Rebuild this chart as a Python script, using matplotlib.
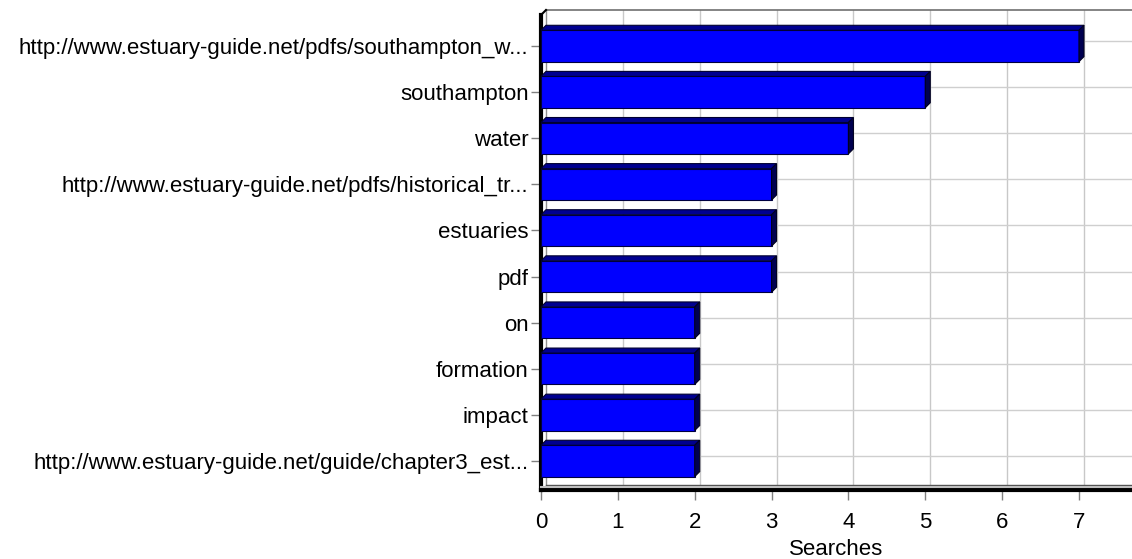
import matplotlib.pyplot as plt
import numpy as np
from matplotlib.patches import Polygon

plt.rcParams['font.family'] = ['Liberation Sans', 'DejaVu Sans']

labels = [
    "http://www.estuary-guide.net/pdfs/southampton_w...",
    "southampton",
    "water",
    "http://www.estuary-guide.net/pdfs/historical_tr...",
    "estuaries",
    "pdf",
    "on",
    "formation",
    "impact",
    "http://www.estuary-guide.net/guide/chapter3_est...",
]
searches = [7, 5, 4, 3, 3, 3, 2, 2, 2, 2]
xticks = [0, 1, 2, 3, 4, 5, 6, 7]

W, H = 1132, 559
fig = plt.figure(figsize=(W / 100, H / 100), dpi=100)
# axes box in pixels: x 541..1132, y 10..490
ax = fig.add_axes([541 / W, 1 - 490 / H, (W - 541) / W, (490 - 10) / H])

xmax = 7.69
ymin, ymax = -0.78, 9.63
ax.set_xlim(0, xmax)
ax.set_ylim(ymax, ymin)

# depth offset in data units (about 5 px right, 5 px up)
dx = 5 / 76.9
dy = 5 / 46.1

# back wall grid
ypos = np.arange(len(labels))
for t in xticks[1:]:
    ax.plot([t + dx, t + dx], [ymin, ymax - dy], color='#c8c8c8', lw=1, zorder=0)
for y in ypos:
    ax.plot([dx, xmax], [y - dy, y - dy], color='#cfcfcf', lw=1, zorder=0)
# back wall edges
ax.plot([dx, dx], [ymin, ymax - dy], color='#909090', lw=1, zorder=1)
ax.plot([dx, xmax], [ymin, ymin], color='#707070', lw=1.2, zorder=1, clip_on=False)
ax.plot([dx, xmax], [ymax - dy, ymax - dy], color='#505050', lw=1, zorder=1)
ax.plot([0, dx], [ymin + dy, ymin], color='black', lw=1.5, zorder=5, clip_on=False)

# bars
h = 0.34
ax.barh(ypos, searches, height=2 * h, color='#0000ff', edgecolor='#000040', lw=0.8, zorder=3)
for y, v in zip(ypos, searches):
    top = Polygon([(0, y - h), (v, y - h), (v + dx, y - h - dy), (dx, y - h - dy)],
                  closed=True, facecolor='#000090', edgecolor='#000030', lw=0.8, zorder=4)
    side = Polygon([(v, y - h), (v + dx, y - h - dy), (v + dx, y + h - dy), (v, y + h)],
                   closed=True, facecolor='#000050', edgecolor='#000020', lw=0.8, zorder=4)
    ax.add_patch(top)
    ax.add_patch(side)

for s in ['top', 'right']:
    ax.spines[s].set_visible(False)
ax.spines['left'].set_linewidth(3)
ax.spines['left'].set_bounds(ymax, ymin + dy)
ax.spines['bottom'].set_linewidth(3)
ax.plot([0, xmax], [ymax - 0.07, ymax - 0.07], color='#c0c0c0', lw=1.5, zorder=5, clip_on=False)

ax.set_yticks(ypos)
ax.set_yticklabels(labels)
ax.set_xticks(xticks)
ax.tick_params(axis='both', colors='#808080', labelcolor='black', labelsize=16, length=7, width=1)
ax.tick_params(axis='y', pad=2)
ax.tick_params(axis='x', pad=9)
ax.set_xlabel('Searches', fontsize=16, labelpad=4)

fig.savefig('out.png', dpi=100)
